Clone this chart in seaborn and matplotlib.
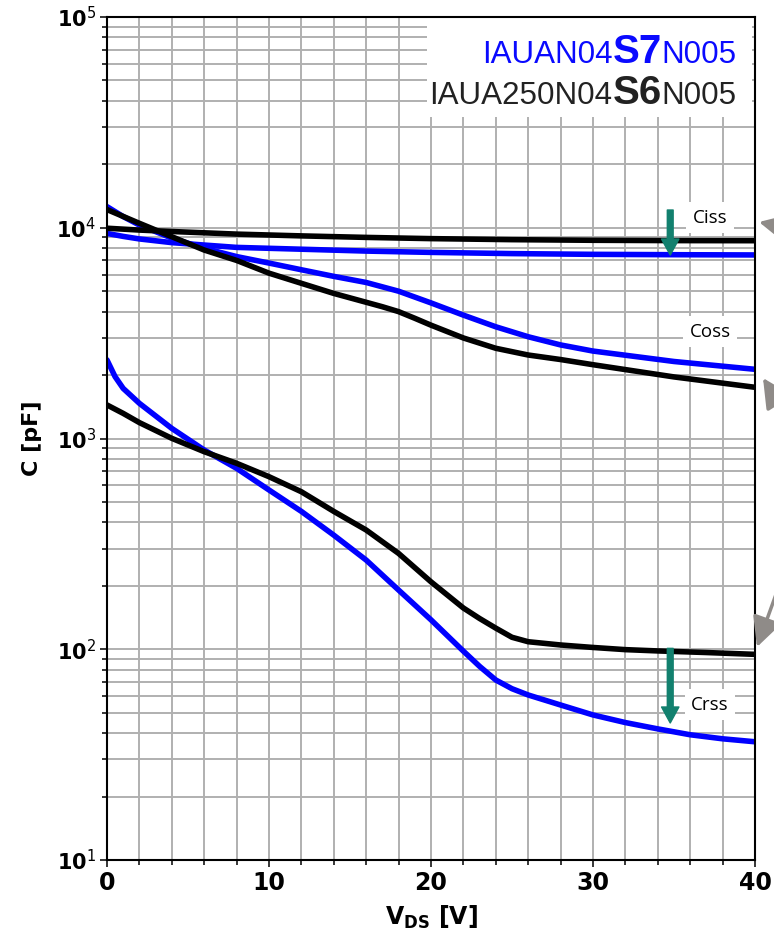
import numpy as np
import pandas as pd
import matplotlib
matplotlib.use("Agg")
import matplotlib.pyplot as plt
import seaborn as sns
from matplotlib.offsetbox import TextArea, HPacker, AnnotationBbox
from matplotlib.patches import Rectangle
from matplotlib.ticker import MultipleLocator, LogLocator, NullFormatter

# values, V_DS in V, C in pF
# black = IAUA250N04S6N005, blue = IAUAN04S7N005
v_ciss_s6 = [0, 2, 4, 8, 12, 16, 20, 25, 30, 35, 40]
ciss_s6 = [9950, 9750, 9600, 9330, 9150, 9000, 8880, 8780, 8720, 8690, 8680]

v_ciss_s7 = [0, 1, 2, 4, 6, 8, 12, 16, 20, 25, 30, 35, 40]
ciss_s7 = [9400, 9100, 8850, 8500, 8280, 8070, 7910, 7750, 7640, 7540, 7480, 7450, 7430]

v_coss_s6 = [0, 2, 4, 6, 8, 10, 12, 14, 16, 17, 18, 19, 20, 22, 24, 26, 28, 30, 35, 40]
coss_s6 = [12200, 10500, 9070, 7840, 7000, 6090, 5450, 4880, 4430, 4220, 4000,
           3720, 3450, 3000, 2680, 2490, 2370, 2240, 1960, 1750]

v_coss_s7 = [0, 1, 2, 4, 6, 8, 10, 12, 14, 16, 18, 20, 22, 24, 26, 28, 30, 35, 40]
coss_s7 = [12600, 11300, 10300, 8930, 7990, 7300, 6800, 6320, 5880, 5500,
           5000, 4400, 3850, 3390, 3040, 2780, 2600, 2320, 2130]

v_crss_s6 = [0, 1, 2, 4, 6, 8, 10, 12, 14, 16, 18, 20, 22, 23, 24, 25, 26,
             28, 30, 32, 34, 37, 40]
crss_s6 = [1443, 1316, 1190, 1002, 866, 763, 659, 559, 451, 368, 285, 209,
           157, 140, 126, 114, 108.6, 104.8, 102, 99.6, 98.2, 96.5, 94.6]

v_crss_s7 = [0, 0.5, 1, 2, 4, 6, 8, 10, 12, 14, 16, 18, 20, 22, 23, 24, 25,
             26, 28, 30, 32, 34, 36, 38, 40]
crss_s7 = [2360, 1966, 1729, 1469, 1117, 882, 722, 570, 451, 348, 265, 191,
           138, 98, 83, 71.5, 65, 60.7, 54.4, 48.8, 44.9, 41.9, 39.3, 37.6, 36.4]

curve_labels = ["Ciss", "Coss", "Crss"]


def long_form(device, pairs):
    parts = []
    for name, (v, c) in zip(curve_labels, pairs):
        parts.append(pd.DataFrame({"V": v, "C": c, "curve": name, "device": device}))
    return pd.concat(parts, ignore_index=True)


df = pd.concat([
    long_form("S7", [(v_ciss_s7, ciss_s7), (v_coss_s7, coss_s7), (v_crss_s7, crss_s7)]),
    long_form("S6", [(v_ciss_s6, ciss_s6), (v_coss_s6, coss_s6), (v_crss_s6, crss_s6)]),
], ignore_index=True)

sns.set_theme(style="white")
plt.rcParams["font.family"] = ["DejaVu Sans"]
plt.rcParams["mathtext.fontset"] = "dejavusans"
for key in ["text.color", "axes.labelcolor", "xtick.color", "ytick.color"]:
    plt.rcParams[key] = "black"

fig = plt.figure(figsize=(7.74, 9.34), dpi=100)
ax = fig.add_axes([0.1382, 0.0792, 0.8372, 0.9026])

for device, color in [("S7", "#0000ff"), ("S6", "black")]:
    sns.lineplot(data=df[df.device == device], x="V", y="C", units="curve",
                 estimator=None, color=color, linewidth=4.0, ax=ax)

ax.set_yscale("log")
ax.set_xlim(0, 40)
ax.set_ylim(10, 1e5)

ax.xaxis.set_major_locator(MultipleLocator(10))
ax.xaxis.set_minor_locator(MultipleLocator(2))
ax.set_yticks([1e1, 1e2, 1e3, 1e4, 1e5])
ax.set_yticklabels([r"$\mathbf{10}^{%d}$" % k for k in range(1, 6)], fontsize=15)
ax.yaxis.set_minor_locator(LogLocator(base=10, subs=np.arange(2, 10)))
ax.yaxis.set_minor_formatter(NullFormatter())
for lab in ax.get_xticklabels():
    lab.set_fontweight("bold")
    lab.set_fontsize(17)

ax.grid(True, which="both", color="#b0b0b0", linewidth=1.4)
ax.set_axisbelow(True)
ax.tick_params(which="major", direction="out", length=5, width=1.1, color="black",
               labelcolor="black", left=True, bottom=True, pad=3)
ax.tick_params(which="minor", direction="out", length=3.5, width=1.1, color="black",
               left=True, bottom=True)
for sp in ax.spines.values():
    sp.set_color("black")
    sp.set_linewidth(1.5)

ax.set_xlabel(r"V$_{\mathbf{DS}}$ [V]", fontsize=17, fontweight="bold", labelpad=6,
              color="black")
ax.set_ylabel("C [pF]", fontsize=16, fontweight="bold", labelpad=10, color="black")

# white panel with the two part numbers
ax.add_patch(Rectangle((0.494, 0.881), 0.501, 0.118, transform=ax.transAxes,
                       facecolor="white", edgecolor="none", zorder=1.5))


def name_row(parts, color):
    boxes = []
    for s, big in parts:
        boxes.append(TextArea(s, textprops=dict(
            color=color, family="Liberation Sans",
            fontsize=29 if big else 22.6, fontweight="bold" if big else "normal")))
    return HPacker(children=boxes, align="baseline", pad=0, sep=0)


row1 = name_row([("IAUAN04", False), ("S7", True), ("N005", False)], "#0a0aff")
row2 = name_row([("IAUA250N04", False), ("S6", True), ("N005", False)], "#222222")
for row, yfrac in [(row1, 0.9365), (row2, 0.8879)]:
    ax.add_artist(AnnotationBbox(row, (0.972, yfrac), xycoords="axes fraction",
                                 box_alignment=(1, 0), frameon=False, pad=0, zorder=3))

# curve names in white boxes
for name, yfrac in [("Ciss", 0.762), ("Coss", 0.6265), ("Crss", 0.184)]:
    ax.text(0.9306, yfrac, name, transform=ax.transAxes, ha="center", va="center",
            fontsize=13.5, family="Open Sans", color="black", zorder=3,
            bbox=dict(boxstyle="square,pad=0.35", facecolor="white", edgecolor="none"))

# green arrows: S6 -> S7 reduction
teal = "#12806e"
for tail, tip in [(12140, 7425), (101, 44.7)]:
    ax.annotate("", xy=(34.77, tip), xytext=(34.77, tail),
                arrowprops=dict(arrowstyle="simple,head_length=1.15,head_width=1.25,tail_width=0.42",
                                color=teal, shrinkA=0, shrinkB=0, mutation_scale=10),
                zorder=4)

# grey pointer arrows coming from outside the picture
grey = "#8f8b88"
for tip, tail in [((759, 712), (840, 694)), ((763, 556), (812, 480)), ((757, 287), (792, 384))]:
    ax.annotate("", xy=tip, xycoords="figure pixels", xytext=tail, textcoords="figure pixels",
                arrowprops=dict(arrowstyle="-|>,head_length=0.9,head_width=0.45",
                                color=grey, lw=2.5, shrinkA=0, shrinkB=0, mutation_scale=20),
                annotation_clip=False)

fig.savefig("out.png", dpi=100)
